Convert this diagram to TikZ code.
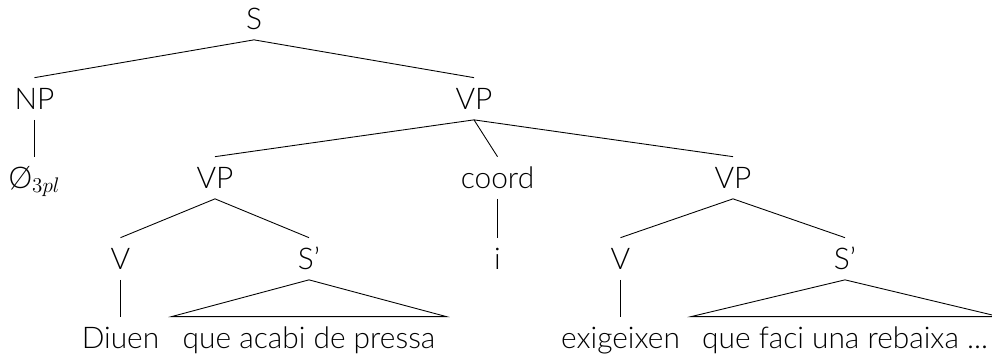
\documentclass[tikz,border=0pt]{standalone}
\usepackage{fontspec}
\setmainfont{Lato}[UprightFont={* Light}]
\usepackage{tikz}
\usetikzlibrary{positioning}

\begin{document}
\begin{tikzpicture}[
    x=0.02cm,y=-0.02cm,
    font=\fontsize{17}{20}\selectfont,
    cat/.style={anchor=base,inner xsep=0.22cm,inner ysep=0.21cm,text height=0.41cm,text depth=0pt},
    branch/.style={line width=0.5pt}
]
\useasboundingbox (0,0) rectangle (992,356);
\node[cat] (s) at (254,29) {S};
\node[cat] (np) at (34.5,109) {NP};
\node[cat] (vp) at (474,109) {VP};
\node[cat] (null) at (34.5,188) {Ø$_{3pl}$};
\node[cat] (vpa) at (215,188) {VP};
\node[cat] (coord) at (497.5,188) {coord};
\node[cat] (vpb) at (733,188) {VP};
\node[cat] (va) at (120.5,269) {V};
\node[cat] (sbara) at (309,269) {S’};
\node[cat] (conj) at (497.5,269) {i};
\node[cat] (vb) at (620.5,269) {V};
\node[cat] (sbarb) at (845,269) {S’};
\node[cat] (diuen) at (120.5,348) {Diuen};
\node[cat] (compa) at (309,348) {que acabi de pressa};
\node[cat] (exig) at (620.5,348) {exigeixen};
\node[cat] (compb) at (845,348) {que faci una rebaixa ...};
\draw[branch] (np.north) -- (s.south) -- (vp.north);
\draw[branch] (np.south) -- (null.north);
\draw[branch] (vpa.north) -- (vp.south) -- (vpb.north);
\draw[branch] (vp.south) -- (coord.north);
\draw[branch] (coord.south) -- (conj.north);
\draw[branch] (va.north) -- (vpa.south) -- (sbara.north);
\draw[branch] (vb.north) -- (vpb.south) -- (sbarb.north);
\draw[branch] (va.south) -- (diuen.north);
\draw[branch] (vb.south) -- (exig.north);
\draw[branch] (sbara.south) -- (compa.north west) -- (compa.north east) -- cycle;
\draw[branch] (sbarb.south) -- (compb.north west) -- (compb.north east) -- cycle;
\end{tikzpicture}
\end{document}
